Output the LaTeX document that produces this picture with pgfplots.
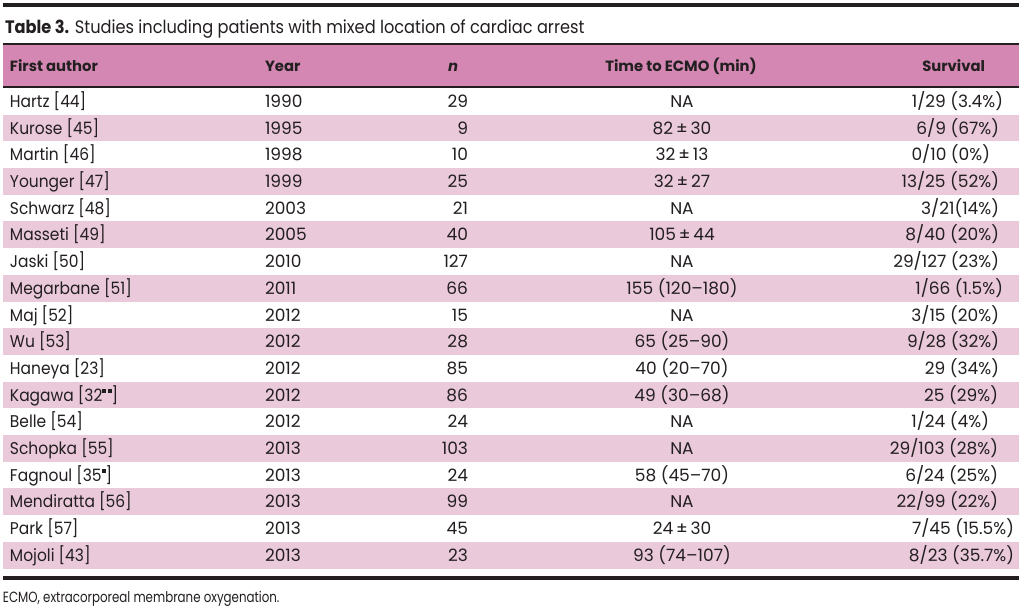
\documentclass[border=0pt]{standalone}
\usepackage{pgfplots}
\pgfplotsset{compat=1.18}
\usepackage{fontspec}
\setmainfont{Poppins}
\newfontfamily\bodyfont{Poppins}
\newfontfamily\authfont[FakeStretch=0.91]{Poppins}
\newfontfamily\titlefont[FakeStretch=0.9]{Poppins}
\newfontfamily\notefont[FakeStretch=0.8]{Poppins}
\definecolor{headpink}{RGB}{211,135,178}
\definecolor{rowpink}{RGB}{234,201,219}
\definecolor{txt}{RGB}{35,31,32}
\newcommand{\sq}{\rule{2pt}{1.8pt}}
\begin{document}
\begin{tikzpicture}[every node/.style={inner sep=0pt, outer sep=0pt, text=txt, font=\bodyfont\fontsize{8.5}{10}\selectfont}]
\begin{axis}[scale only axis, width=512pt, height=306.5pt,
  xmin=0, xmax=1024, ymin=0, ymax=613, y dir=reverse,
  hide axis, clip=false]
% background
\addplot[fill=white, draw=none] coordinates {(0,0)(1024,0)(1024,613)(0,613)} -- cycle;
% header band
\addplot[fill=headpink, draw=none] coordinates {(3,44)(1019,44)(1019,88)(3,88)} -- cycle;
% pink rows (odd rows)
\addplot[fill=rowpink, draw=none] coordinates {(3,114.7)(1019,114.7)(1019,141.4)(3,141.4)} -- cycle;
\addplot[fill=rowpink, draw=none] coordinates {(3,168.1)(1019,168.1)(1019,194.8)(3,194.8)} -- cycle;
\addplot[fill=rowpink, draw=none] coordinates {(3,221.5)(1019,221.5)(1019,248.2)(3,248.2)} -- cycle;
\addplot[fill=rowpink, draw=none] coordinates {(3,274.9)(1019,274.9)(1019,301.6)(3,301.6)} -- cycle;
\addplot[fill=rowpink, draw=none] coordinates {(3,328.3)(1019,328.3)(1019,355.0)(3,355.0)} -- cycle;
\addplot[fill=rowpink, draw=none] coordinates {(3,381.7)(1019,381.7)(1019,408.4)(3,408.4)} -- cycle;
\addplot[fill=rowpink, draw=none] coordinates {(3,435.1)(1019,435.1)(1019,461.8)(3,461.8)} -- cycle;
\addplot[fill=rowpink, draw=none] coordinates {(3,488.5)(1019,488.5)(1019,515.2)(3,515.2)} -- cycle;
\addplot[fill=rowpink, draw=none] coordinates {(3,541.9)(1019,541.9)(1019,568.6)(3,568.6)} -- cycle;
% rules
\addplot[draw=txt, line width=2pt] coordinates {(3,5)(1019,5)};
\addplot[draw=txt, line width=0.8pt] coordinates {(3,44)(1019,44)};
\addplot[draw=txt, line width=1pt] coordinates {(3,87.5)(1019,87.5)};
\addplot[draw=txt, line width=2pt] coordinates {(3,578)(1019,578)};
% title
\node[anchor=base west, font=\titlefont\fontsize{9}{11}\selectfont] at (axis cs:5,33.3) {\textbf{Table 3.} Studies including patients with mixed location of cardiac arrest};
% header
\begin{scope}[every node/.append style={font=\rmfamily\fontsize{7.4}{9}\selectfont\bfseries}]
\node[anchor=base west] at (axis cs:10,71.7) {First author};
\node[anchor=base west] at (axis cs:265,71.7) {Year};
\node[anchor=base] at (axis cs:453,71.7) {\textit{n}};
\node[anchor=base] at (axis cs:681,71.7) {Time to ECMO (min)};
\node[anchor=base east] at (axis cs:985,71.7) {Survival};
\end{scope}
% rows: author
\begin{scope}[every node/.append style={font=\authfont\fontsize{8.5}{10}\selectfont}]
\node[anchor=base west] at (axis cs:10,107.5) {Hartz [44]};
\node[anchor=base west] at (axis cs:10,134.2) {Kurose [45]};
\node[anchor=base west] at (axis cs:10,160.9) {Martin [46]};
\node[anchor=base west] at (axis cs:10,187.6) {Younger [47]};
\node[anchor=base west] at (axis cs:10,214.3) {Schwarz [48]};
\node[anchor=base west] at (axis cs:10,241.0) {Masseti [49]};
\node[anchor=base west] at (axis cs:10,267.7) {Jaski [50]};
\node[anchor=base west] at (axis cs:10,294.4) {Megarbane [51]};
\node[anchor=base west] at (axis cs:10,321.1) {Maj [52]};
\node[anchor=base west] at (axis cs:10,347.8) {Wu [53]};
\node[anchor=base west] at (axis cs:10,374.5) {Haneya [23]};
\node[anchor=base west] at (axis cs:10,401.2) {Kagawa [32\raisebox{4.1pt}{\sq\hspace{0.6pt}\sq}]};
\node[anchor=base west] at (axis cs:10,427.9) {Belle [54]};
\node[anchor=base west] at (axis cs:10,454.6) {Schopka [55]};
\node[anchor=base west] at (axis cs:10,481.3) {Fagnoul [35\raisebox{4.1pt}{\sq}]};
\node[anchor=base west] at (axis cs:10,508.0) {Mendiratta [56]};
\node[anchor=base west] at (axis cs:10,534.7) {Park [57]};
\node[anchor=base west] at (axis cs:10,561.4) {Mojoli [43]};
\end{scope}
% year
\node[anchor=base west] at (axis cs:265,107.5) {1990};
\node[anchor=base west] at (axis cs:265,134.2) {1995};
\node[anchor=base west] at (axis cs:265,160.9) {1998};
\node[anchor=base west] at (axis cs:265,187.6) {1999};
\node[anchor=base west] at (axis cs:265,214.3) {2003};
\node[anchor=base west] at (axis cs:265,241.0) {2005};
\node[anchor=base west] at (axis cs:265,267.7) {2010};
\node[anchor=base west] at (axis cs:265,294.4) {2011};
\node[anchor=base west] at (axis cs:265,321.1) {2012};
\node[anchor=base west] at (axis cs:265,347.8) {2012};
\node[anchor=base west] at (axis cs:265,374.5) {2012};
\node[anchor=base west] at (axis cs:265,401.2) {2012};
\node[anchor=base west] at (axis cs:265,427.9) {2012};
\node[anchor=base west] at (axis cs:265,454.6) {2013};
\node[anchor=base west] at (axis cs:265,481.3) {2013};
\node[anchor=base west] at (axis cs:265,508.0) {2013};
\node[anchor=base west] at (axis cs:265,534.7) {2013};
\node[anchor=base west] at (axis cs:265,561.4) {2013};
% n
\node[anchor=base east] at (axis cs:468,107.5) {29};
\node[anchor=base east] at (axis cs:468,134.2) {9};
\node[anchor=base east] at (axis cs:468,160.9) {10};
\node[anchor=base east] at (axis cs:468,187.6) {25};
\node[anchor=base east] at (axis cs:468,214.3) {21};
\node[anchor=base east] at (axis cs:468,241.0) {40};
\node[anchor=base east] at (axis cs:468,267.7) {127};
\node[anchor=base east] at (axis cs:468,294.4) {66};
\node[anchor=base east] at (axis cs:468,321.1) {15};
\node[anchor=base east] at (axis cs:468,347.8) {28};
\node[anchor=base east] at (axis cs:468,374.5) {85};
\node[anchor=base east] at (axis cs:468,401.2) {86};
\node[anchor=base east] at (axis cs:468,427.9) {24};
\node[anchor=base east] at (axis cs:468,454.6) {103};
\node[anchor=base east] at (axis cs:468,481.3) {24};
\node[anchor=base east] at (axis cs:468,508.0) {99};
\node[anchor=base east] at (axis cs:468,534.7) {45};
\node[anchor=base east] at (axis cs:468,561.4) {23};
% time to ECMO
\node[anchor=base] at (axis cs:682,107.5) {NA};
\node[anchor=base] at (axis cs:682,134.2) {82\,±\,30};
\node[anchor=base] at (axis cs:682,160.9) {32\,±\,13};
\node[anchor=base] at (axis cs:682,187.6) {32\,±\,27};
\node[anchor=base] at (axis cs:682,214.3) {NA};
\node[anchor=base] at (axis cs:682,241.0) {105\,±\,44};
\node[anchor=base] at (axis cs:682,267.7) {NA};
\node[anchor=base] at (axis cs:682,294.4) {155 (120–180)};
\node[anchor=base] at (axis cs:682,321.1) {NA};
\node[anchor=base] at (axis cs:682,347.8) {65 (25–90)};
\node[anchor=base] at (axis cs:682,374.5) {40 (20–70)};
\node[anchor=base] at (axis cs:682,401.2) {49 (30–68)};
\node[anchor=base] at (axis cs:682,427.9) {NA};
\node[anchor=base] at (axis cs:682,454.6) {NA};
\node[anchor=base] at (axis cs:682,481.3) {58 (45–70)};
\node[anchor=base] at (axis cs:682,508.0) {NA};
\node[anchor=base] at (axis cs:682,534.7) {24\,±\,30};
\node[anchor=base] at (axis cs:682,561.4) {93 (74–107)};
% survival
\node[anchor=base east] at (axis cs:1003,107.5) {1/29 (3.4\%)};
\node[anchor=base east] at (axis cs:999,134.2) {6/9 (67\%)};
\node[anchor=base east] at (axis cs:990,160.9) {0/10 (0\%)};
\node[anchor=base east] at (axis cs:999,187.6) {13/25 (52\%)};
\node[anchor=base east] at (axis cs:999,214.3) {3/21(14\%)};
\node[anchor=base east] at (axis cs:999,241.0) {8/40 (20\%)};
\node[anchor=base east] at (axis cs:999,267.7) {29/127 (23\%)};
\node[anchor=base east] at (axis cs:1003,294.4) {1/66 (1.5\%)};
\node[anchor=base east] at (axis cs:999,321.1) {3/15 (20\%)};
\node[anchor=base east] at (axis cs:999,347.8) {9/28 (32\%)};
\node[anchor=base east] at (axis cs:999,374.5) {29 (34\%)};
\node[anchor=base east] at (axis cs:998,401.2) {25 (29\%)};
\node[anchor=base east] at (axis cs:989,427.9) {1/24 (4\%)};
\node[anchor=base east] at (axis cs:998,454.6) {29/103 (28\%)};
\node[anchor=base east] at (axis cs:998,481.3) {6/24 (25\%)};
\node[anchor=base east] at (axis cs:998,508.0) {22/99 (22\%)};
\node[anchor=base east] at (axis cs:1014,534.7) {7/45 (15.5\%)};
\node[anchor=base east] at (axis cs:1014,561.4) {8/23 (35.7\%)};
% footnote
\node[anchor=base west, font=\notefont\fontsize{7.4}{9}\selectfont] at (axis cs:3,603) {ECMO, extracorporeal membrane oxygenation.};
\end{axis}
\end{tikzpicture}
\end{document}
